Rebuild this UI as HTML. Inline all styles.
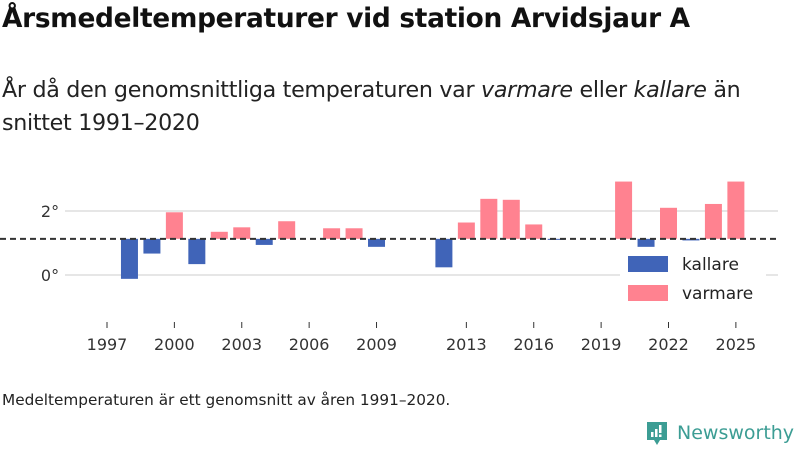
<!DOCTYPE html>
<html><head><meta charset="utf-8"><style>
body{margin:0;width:800px;height:450px;background:#fff;font-family:"Liberation Sans","DejaVu Sans",sans-serif;overflow:hidden;position:relative}
.t{position:absolute;color:#111;white-space:nowrap}
</style></head><body>
<div class="t" style="left:2px;top:3px;font-size:26.4px;font-weight:bold;font-family:'DejaVu Sans',sans-serif;letter-spacing:-0.3px">Årsmedeltemperaturer vid station Arvidsjaur A</div>
<div class="t" style="left:2px;top:74px;font-size:22.2px;line-height:33px;font-family:'DejaVu Sans',sans-serif;color:#222;letter-spacing:-0.3px">År då den genomsnittliga temperaturen var <i>varmare</i> eller <i>kallare</i> än<br>snittet 1991–2020</div>
<svg id="c" width="800" height="450" style="position:absolute;left:0;top:0"></svg>
<div class="t" style="left:2px;top:391px;font-size:15.3px;font-family:'DejaVu Sans',sans-serif;color:#222">Medeltemperaturen är ett genomsnitt av åren 1991–2020.</div>
<div style="position:absolute;left:645px;top:420px;display:flex;align-items:center">
<svg width="24" height="26"><path d="M2 2h20v18h-7l-3 5-3-5H2z" fill="#3c9d94"/><rect x="6" y="12" width="2.5" height="5" fill="#fff"/><rect x="10" y="9" width="2.5" height="8" fill="#fff"/><rect x="14" y="5" width="2.5" height="8" fill="#fff"/><rect x="14" y="14.5" width="2.5" height="2.5" fill="#fff"/></svg>
<span style="font-size:19px;color:#3c9d94;margin-left:8px;font-family:'DejaVu Sans',sans-serif">Newsworthy</span></div>
<script>
const years=[1998,1999,2000,2001,2002,2003,2004,2005,2007,2008,2009,2012,2013,2014,2015,2016,2017,2020,2021,2022,2023,2024,2025];
const temps=[-0.12,0.67,1.96,0.34,1.35,1.49,0.94,1.68,1.46,1.46,0.88,0.24,1.64,2.38,2.35,1.58,1.10,2.92,0.88,2.10,1.08,2.22,2.92];
const mean=1.13;
const xTicks=[1997,2000,2003,2006,2009,2013,2016,2019,2022,2025];
const yTicks=[0,2];
const yTickLabels=["0°","2°"];
const x=yr=>107+(yr-1997)*22.46;
const y=v=>275-v*32;
const s=document.getElementById('c');const NS='http://www.w3.org/2000/svg';
function el(t,a){const e=document.createElementNS(NS,t);for(const k in a)e.setAttribute(k,a[k]);s.appendChild(e);return e;}
yTicks.forEach((v,i)=>{
 const g=el('line',{x1:65,x2:778,y1:y(v),y2:y(v),stroke:'#ddd','stroke-width':1.5});
 
 
 const t=el('text',{x:50,y:y(v)+6,'font-size':16,fill:'#333','text-anchor':'middle','font-family':'DejaVu Sans,sans-serif'});t.textContent=yTickLabels[i];
 
 
});
xTicks.forEach(yr=>{
 const l=el('line',{x1:x(yr),x2:x(yr),y1:322,y2:328,stroke:'#333'});
 
 
 const t=el('text',{x:x(yr),y:350,'font-size':16,fill:'#333','text-anchor':'middle','font-family':'DejaVu Sans,sans-serif'});t.textContent=yr;
 
 
});
years.forEach((yr,i)=>{
 const v=temps[i];const top=Math.min(y(v),y(mean));const h=Math.max(1,Math.abs(y(v)-y(mean)));
 const r=el('rect',{x:x(yr)-8.5,y:top,width:17,height:h,fill:v>=mean?'#ff8290':'#4064b8'});
 
 
});
const m=el('line',{x1:0,x2:778,y1:y(mean),y2:y(mean),stroke:'#333','stroke-width':2,'stroke-dasharray':'6,4'});


const lg=el('rect',{x:620,y:248,width:146,height:58,fill:'#fff'});


[['kallare','#4064b8',256],['varmare','#ff8290',285]].forEach(([n,c,yy])=>{
 const r=el('rect',{x:628,y:yy,width:40,height:16,fill:c});
 
 
 const t=el('text',{x:682,y:yy+14,'font-size':17,fill:'#222','font-family':'DejaVu Sans,sans-serif'});t.textContent=n;
 
 
});
</script>
</body></html>
